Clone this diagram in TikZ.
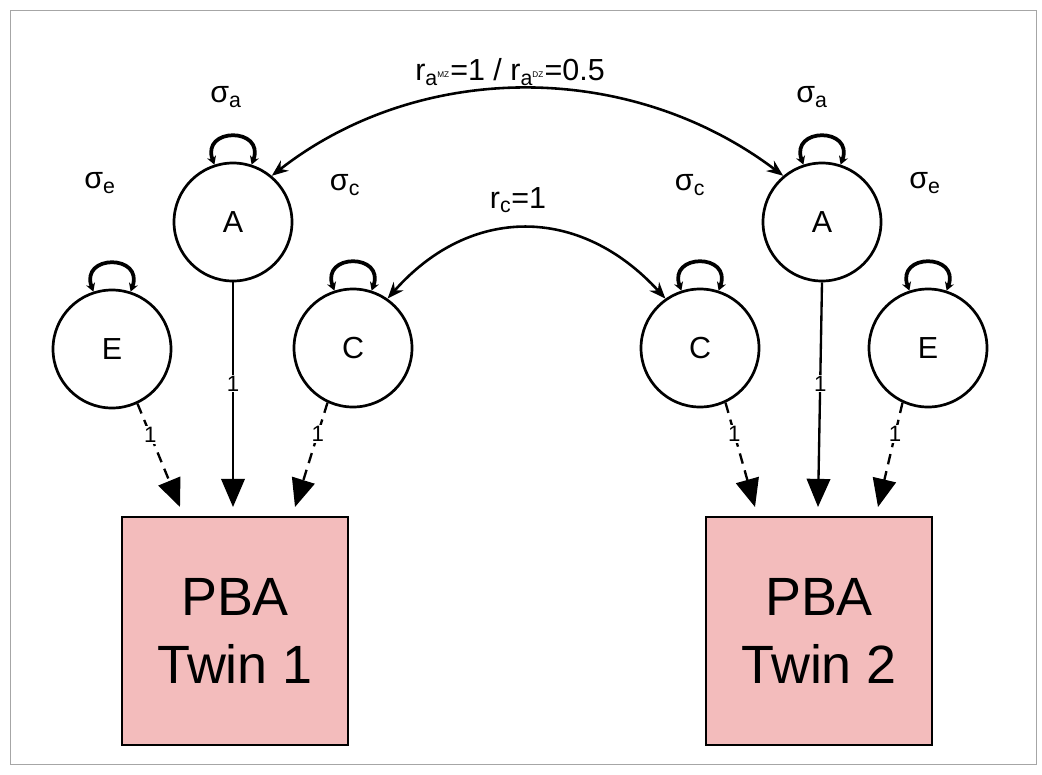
\documentclass[tikz,border=0pt]{standalone}
\usepackage{fontspec}
\setmainfont{Liberation Sans}
\usetikzlibrary{arrows.meta}
\begin{document}
\begin{tikzpicture}[x=0.03cm,y=-0.03cm,
 lat/.style={circle,draw,line width=2.3pt,minimum size=118*0.03cm,inner sep=0pt,font=\fontsize{26}{26}\selectfont},
 obs/.style={draw,line width=2.4pt,fill={rgb,255:red,243;green,188;blue,188},minimum width=226*0.03cm,minimum height=228*0.03cm,align=center,font=\fontsize{46}{58}\selectfont},
 arr/.style={line width=2pt,-{Triangle[length=24pt,width=20pt]}},
 dsh/.style={arr,dash pattern=on 9pt off 6pt},
 cov/.style={line width=2.2pt,{Stealth[length=14pt,width=11pt]}-{Stealth[length=14pt,width=11pt]}},
 lp/.style={line width=3.2pt,{Stealth[length=7pt,width=8pt]}-{Stealth[length=7pt,width=8pt]}},
 lab/.style={font=\fontsize{26}{26}\selectfont},
 one/.style={fill=white,inner sep=1pt,font=\fontsize{19}{19}\selectfont}]
\useasboundingbox (0,0) rectangle (1042,774);
\draw[gray!70,line width=0.6pt] (10,10) rectangle (1036,764);
\node[lat] (E1) at (112,349) {E};
\node[lat] (A1) at (233,222) {A};
\node[lat] (C1) at (353,348) {C};
\node[lat] (C2) at (700,348) {C};
\node[lat] (A2) at (822,222) {A};
\node[lat] (E2) at (928,348) {E};
\node[obs] (B1) at (235,631) {PBA\\Twin 1};
\node[obs] (B2) at (819,631) {PBA\\Twin 2};
\foreach \n/\s/\x/\y in {E1/e/100/183,A1/a/226/97,C1/c/345/185,C2/c/690/185,A2/a/812/97,E2/e/925/183}{
  \draw[lp] (\n.108) .. controls +(-110:40) and +(-70:40) .. (\n.72);
  \node[lab] (s\n) at (\x,\y) {σ\textsubscript{\s}};
}
\coordinate (t1a) at (180,507); \coordinate (t1b) at (233,507); \coordinate (t1c) at (295,507);
\coordinate (t2a) at (755,507); \coordinate (t2b) at (818,507); \coordinate (t2c) at (878,507);
\draw[dsh] (E1.-65) -- node[one,pos=0.3]{1} (t1a);
\draw[arr] (A1.south) -- node[one,pos=0.45]{1} (t1b);
\draw[dsh] (C1.-115) -- node[one,pos=0.3]{1} (t1c);
\draw[dsh] (C2.-65) -- node[one,pos=0.3]{1} (t2a);
\draw[arr] (A2.south) -- node[one,pos=0.45]{1} (t2b);
\draw[dsh] (E2.-115) -- node[one,pos=0.3]{1} (t2c);
\draw[cov] (A1.50) .. controls (420,60) and (630,60) .. (A2.130);
\draw[cov] (C1.55) .. controls (470,205) and (580,205) .. (C2.125);
\node[lab] (ra) at (510,72) {r\textsubscript{a\textsuperscript{\scriptsize MZ}}=1 / r\textsubscript{a\textsuperscript{\scriptsize DZ}}=0.5};
\node[lab] (rc) at (518,200) {r\textsubscript{c}=1};
\end{tikzpicture}
\end{document}
